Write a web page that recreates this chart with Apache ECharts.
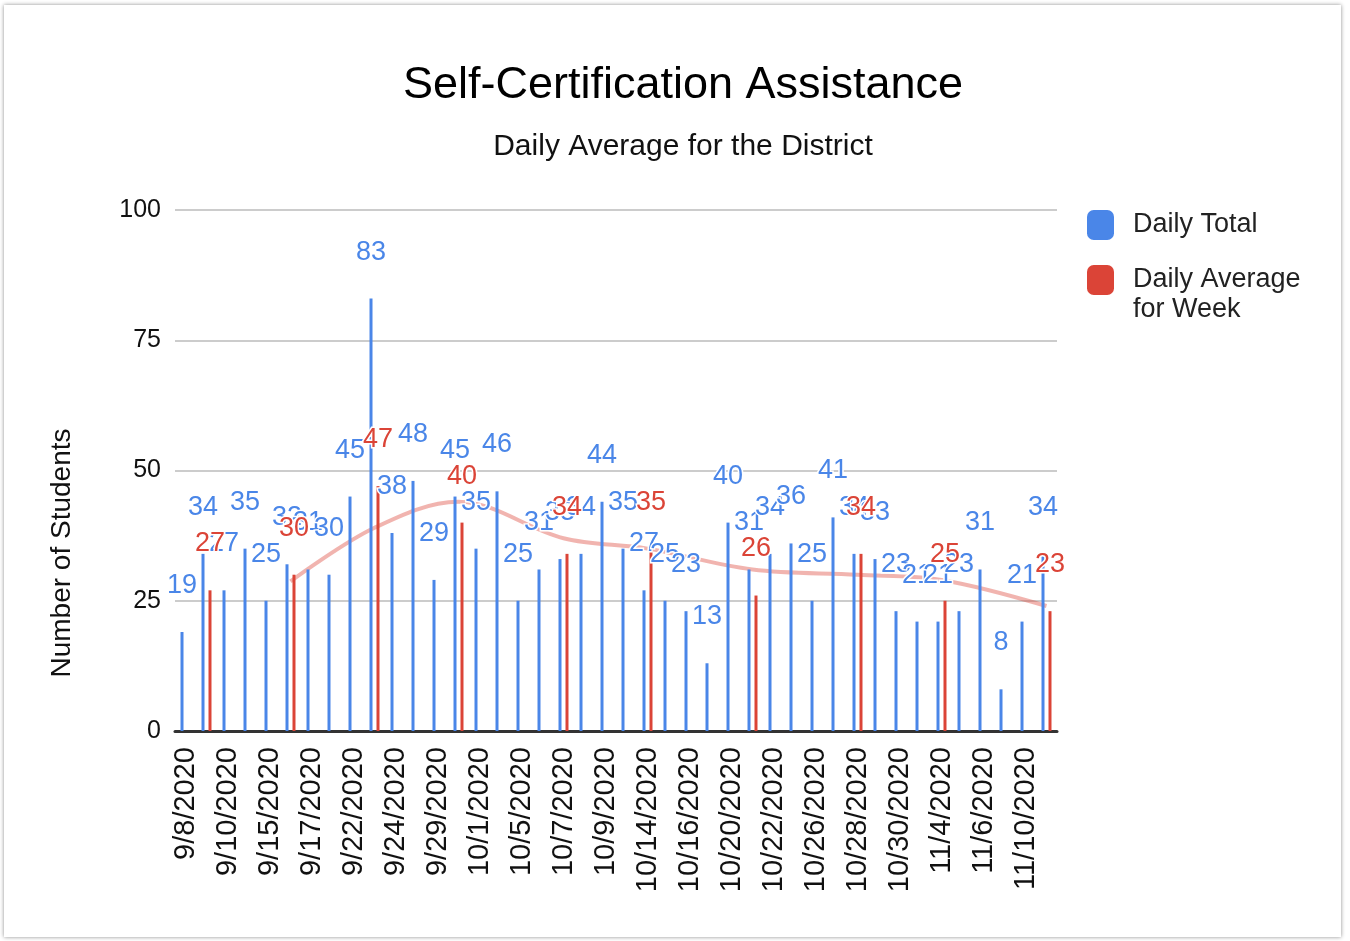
<!DOCTYPE html>
<html>
<head>
<meta charset="utf-8">
<script src="https://cdn.jsdelivr.net/npm/echarts@6/dist/echarts.min.js"></script>
<style>
  html, body { margin: 0; padding: 0; background: #fff; }
  #card { position: absolute; left: 4px; top: 5px; width: 1337px; height: 932px;
          box-shadow: 0 0 4px rgba(0,0,0,0.45); background: #fff; }
  #main { position: absolute; left: 0; top: 0; width: 1350px; height: 941px; }
</style>
</head>
<body>
<div id="card"></div>
<div id="main"></div>
<script>
  // dates (every other one is labelled on the axis)
  var dates = ['9/8/2020','9/9/2020','9/10/2020','9/14/2020','9/15/2020','9/16/2020','9/17/2020',
    '9/21/2020','9/22/2020','9/23/2020','9/24/2020','9/28/2020','9/29/2020','9/30/2020',
    '10/1/2020','10/2/2020','10/5/2020','10/6/2020','10/7/2020','10/8/2020','10/9/2020',
    '10/13/2020','10/14/2020','10/15/2020','10/16/2020','10/19/2020','10/20/2020','10/21/2020',
    '10/22/2020','10/23/2020','10/26/2020','10/27/2020','10/28/2020','10/29/2020','10/30/2020',
    '11/2/2020','11/4/2020','11/5/2020','11/6/2020','11/9/2020','11/10/2020','11/11/2020'];

  var dailyTotal = [19,34,27,35,25,32,31,30,45,83,38,48,29,45,35,46,25,31,33,34,44,
    35,27,25,23,13,40,31,34,36,25,41,34,33,23,21,21,23,31,8,21,34];

  var weekAvg = [null,27,null,null,null,30,null,null,null,47,null,null,null,40,null,null,null,null,34,null,null,
    null,35,null,null,null,null,26,null,null,null,null,34,null,null,null,25,null,null,null,null,23];

  // pink trend line through the weekly points
  var trend = [null,null,null,null,null,28.7,null,null,null,39,null,null,null,44,null,null,null,null,37,null,null,
    null,35,null,null,null,null,31,null,null,null,null,30,null,null,null,29,null,null,null,null,24];

  var blue = '#4a86e8', red = '#db4437';
  var font = 'Liberation Sans, Arial, sans-serif';

  var chart = echarts.init(document.getElementById('main'));

  function lbl(color) {
    return {
      show: true, position: 'top', distance: 33, color: color,
      fontSize: 27, fontFamily: font,
      textBorderColor: '#fff', textBorderWidth: 3,
      formatter: function (p) { return p.value == null ? '' : p.value; }
    };
  }

  var legendText = { fontSize: 27, color: '#222', fontFamily: font, lineHeight: 30, padding: [0, 0, 0, 14] };
  var legendBase = {
    orient: 'vertical', left: 1087, padding: 0,
    itemWidth: 27, itemHeight: 30, icon: 'roundRect', textStyle: legendText
  };

  chart.setOption({
    animation: false,
    title: {
      text: 'Self-Certification Assistance',
      subtext: 'Daily Average for the District',
      left: 683, textAlign: 'center', top: 63, itemGap: 24,
      padding: 0,
      textStyle: { fontSize: 45, fontWeight: 'normal', color: '#000', fontFamily: font },
      subtextStyle: { fontSize: 30, color: '#111', fontFamily: font }
    },
    legend: [
      Object.assign({}, legendBase, { top: 210, data: ['Daily Total'] }),
      // blank first line so the square sits level with "Daily Average"
      Object.assign({}, legendBase, {
        top: 235, data: ['Daily Average for Week'],
        formatter: function () { return '\u00a0\nDaily Average\nfor Week'; }
      })
    ],
    graphic: [{
      type: 'text', x: 62, y: 553, rotation: Math.PI / 2,
      style: { text: 'Number of Students', fontSize: 28, fontFamily: font, fill: '#111',
               align: 'center', verticalAlign: 'middle' }
    }],
    grid: { left: 175, right: 293, top: 210, bottom: 210 },
    xAxis: {
      type: 'category', data: dates,
      axisTick: { show: false },
      axisLine: { lineStyle: { color: '#333', width: 3 } },
      axisLabel: { interval: 1, rotate: 90, margin: 16, fontSize: 29, color: '#111', fontFamily: font }
    },
    yAxis: {
      type: 'value', min: 0, max: 100, interval: 25,
      axisLine: { show: false },
      axisTick: { show: false },
      splitLine: { lineStyle: { color: '#ccc', width: 2 } },
      axisLabel: { fontSize: 25, color: '#111', margin: 14, fontFamily: font }
    },
    series: [
      {
        name: 'Daily Total', type: 'bar', data: dailyTotal, z: 3,
        barWidth: 3, barGap: '133%', itemStyle: { color: blue },
        label: lbl(blue)
      },
      {
        name: 'Daily Average for Week', type: 'bar', data: weekAvg, z: 3,
        barWidth: 3, barGap: '133%', itemStyle: { color: red },
        label: lbl(red)
      },
      {
        name: 'Trend', type: 'line', data: trend, z: 1,
        connectNulls: true, smooth: 0.35, showSymbol: false, symbol: 'none',
        lineStyle: { color: 'rgba(219,68,55,0.4)', width: 4 }
      }
    ]
  });
</script>
</body>
</html>
